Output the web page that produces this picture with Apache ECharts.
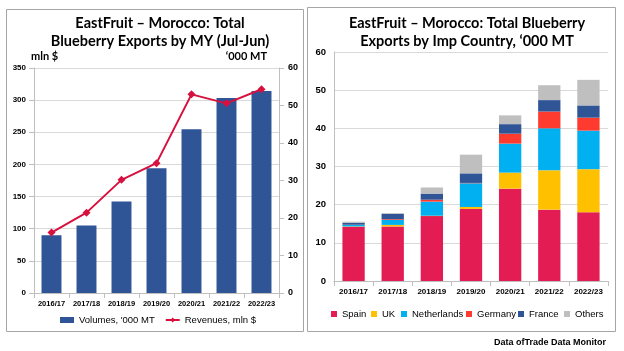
<!DOCTYPE html>
<html><head><meta charset="utf-8">
<script src="https://cdn.jsdelivr.net/npm/echarts@6/dist/echarts.min.js"></script>
<style>html,body{margin:0;padding:0;background:#fff}#c{width:624px;height:351px}</style>
</head><body><div id="c"></div>
<script>
const years = ['2016/17','2017/18','2018/19','2019/20','2020/21','2021/22','2022/23'];
const volumes = [15.4, 18.0, 24.4, 33.3, 43.7, 52.0, 53.9];
const revenues = [94, 125, 176, 202, 309, 295, 317];
const spain = [14.2, 14.3, 17.0, 18.9, 24.2, 18.7, 18.0];
const uk = [0.1, 0.4, 0.1, 0.5, 4.2, 10.3, 11.3];
const netherlands = [0.4, 1.3, 3.7, 6.2, 7.6, 11.0, 10.1];
const germany = [0.05, 0.2, 0.5, 0.1, 2.6, 4.4, 3.4];
const france = [0.5, 1.4, 1.6, 2.5, 2.5, 3.0, 3.2];
const others = [0.3, 0.2, 1.6, 4.9, 2.3, 3.9, 6.7];

const chart = echarts.init(document.getElementById('c'));
const F = 'Liberation Sans';
const titleStyle = {fontFamily:'Lato', fontWeight:'bold', fontSize:14.5, color:'#000', lineHeight:18};
const axisLabelY = (fs)=>({fontFamily:F, fontWeight:'bold', fontSize:fs, color:'#000'});
const gridLine = {show:true, lineStyle:{color:'#D9D9D9', width:1}};
const axisLine = {show:true, lineStyle:{color:'#BFBFBF'}};

function countryLegend(name, left){
  return {data:[name], left:left, top:309, orient:'horizontal', icon:'rect', itemWidth:6, itemHeight:6,
    textStyle:{fontFamily:F, fontSize:9.5, color:'#000'}, itemGap:0, selectedMode:false, padding:0};
}

const countries = [['Spain',spain,'#E31C54'],['UK',uk,'#FFC000'],['Netherlands',netherlands,'#00B0F0'],
  ['Germany',germany,'#FF3B30'],['France',france,'#2F5597'],['Others',others,'#BFBFBF']];
const legendLefts = [331, 371, 401, 466, 518, 564];

const option = {
  animation:false,
  title:[
    {text:'EastFruit – Morocco: Total\nBlueberry Exports by MY (Jul-Jun)', left:155, top:9, textAlign:'center', textStyle:titleStyle},
    {text:'EastFruit – Morocco: Total Blueberry\nExports by Imp Country, ‘000 MT', left:462, top:9, textAlign:'center', textStyle:titleStyle}
  ],
  grid:[
    {left:34, right:345, top:68, bottom:58},
    {left:334, right:16, top:52, bottom:70}
  ],
  xAxis:[
    {type:'category', gridIndex:0, data:years, axisLine:axisLine, axisTick:{show:true, lineStyle:{color:'#BFBFBF'}},
     axisLabel:{fontFamily:F, fontWeight:'bold', fontSize:7.5, color:'#000', margin:7, interval:0}},
    {type:'category', gridIndex:1, data:years, axisLine:axisLine, axisTick:{show:true, lineStyle:{color:'#BFBFBF'}},
     axisLabel:{fontFamily:F, fontWeight:'bold', fontSize:8, color:'#000', margin:7, interval:0}}
  ],
  yAxis:[
    {type:'value', gridIndex:0, min:0, max:350, interval:50, position:'left', name:'mln $', nameLocation:'end', nameGap:6,
     nameTextStyle:{fontFamily:'Lato', fontWeight:'bold', fontSize:11, color:'#000', align:'left', padding:[0,0,0,-3]},
     axisLine:axisLine, axisTick:{show:true, lineStyle:{color:'#BFBFBF'}}, splitLine:gridLine, axisLabel:Object.assign(axisLabelY(8),{margin:8})},
    {type:'value', gridIndex:0, min:0, max:60, interval:10, position:'right', name:'‘000 MT', nameLocation:'end', nameGap:6,
     nameTextStyle:{fontFamily:'Lato', fontWeight:'bold', fontSize:11, color:'#000', align:'right', padding:[0,12,0,0]},
     axisLine:axisLine, axisTick:{show:true, lineStyle:{color:'#BFBFBF'}}, splitLine:{show:false}, axisLabel:Object.assign(axisLabelY(9),{margin:9})},
    {type:'value', gridIndex:1, min:0, max:60, interval:10, axisLine:axisLine, axisTick:{show:false}, splitLine:gridLine,
     axisLabel:Object.assign(axisLabelY(9.5),{margin:8})}
  ],
  legend:[
    {data:[{name:"Volumes, '000 MT", icon:'rect'}, {name:'Revenues, mln $'}], left:60, top:315,
     itemGap:10, textStyle:{fontFamily:F, fontSize:9.5, color:'#000'}, itemWidth:14, itemHeight:6, selectedMode:false,
     padding:0}
  ].concat(countries.map((c,i)=>countryLegend(c[0], legendLefts[i]))),
  series:[
    {name:"Volumes, '000 MT", type:'bar', xAxisIndex:0, yAxisIndex:1, data:volumes, barWidth:'57%',
     itemStyle:{color:'#2F5597'}},
    {name:'Revenues, mln $', type:'line', xAxisIndex:0, yAxisIndex:0, data:revenues, symbol:'diamond', symbolSize:8,
     lineStyle:{color:'#D7103E', width:2}, itemStyle:{color:'#D7103E'}, z:5}
  ].concat(countries.map(c=>({name:c[0], type:'bar', stack:'c', xAxisIndex:1, yAxisIndex:2, data:c[1], barWidth:'57%',
     itemStyle:{color:c[2]}}))),
  graphic:[
    {type:'rect', shape:{x:6.5, y:9.5, width:297, height:322}, style:{fill:'none', stroke:'#A6A6A6', lineWidth:1}},
    {type:'rect', shape:{x:307.5, y:7.5, width:308, height:324}, style:{fill:'none', stroke:'#A6A6A6', lineWidth:1}},
    {type:'text', left:494, top:338, style:{text:'Data ofTrade Data Monitor', fontFamily:F, fontWeight:'bold', fontSize:9, fill:'#000'}}
  ]
};
chart.setOption(option);
</script></body></html>
